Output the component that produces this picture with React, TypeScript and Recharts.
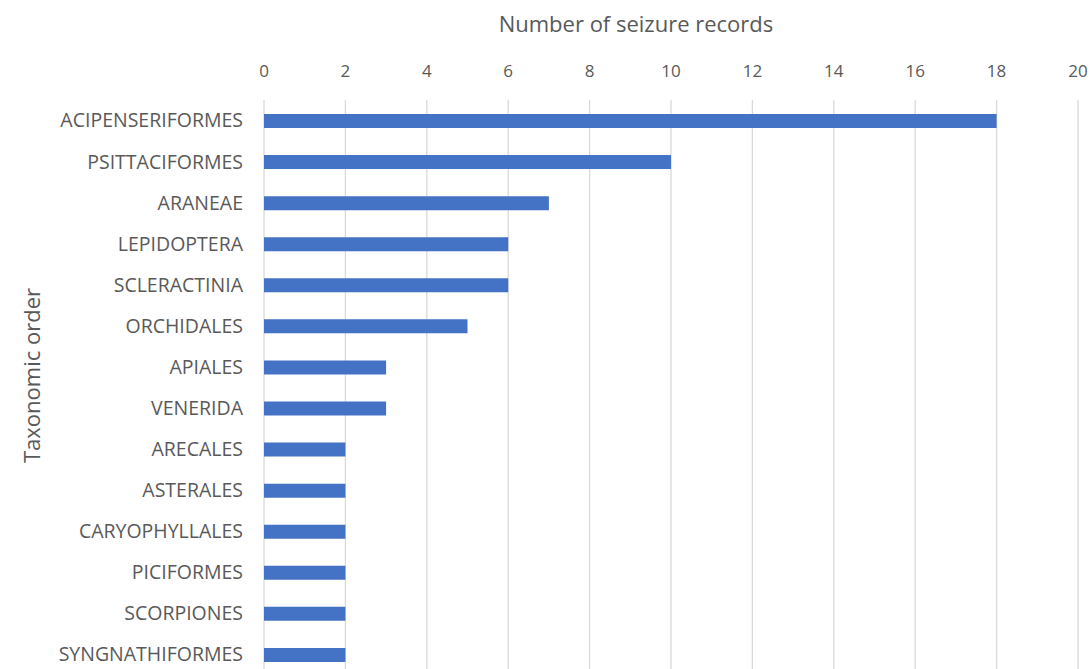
import { BarChart, Bar, XAxis, YAxis, CartesianGrid, Label } from "recharts";

const orders = [
  "ACIPENSERIFORMES", "PSITTACIFORMES", "ARANEAE", "LEPIDOPTERA", "SCLERACTINIA",
  "ORCHIDALES", "APIALES", "VENERIDA", "ARECALES", "ASTERALES",
  "CARYOPHYLLALES", "PICIFORMES", "SCORPIONES", "SYNGNATHIFORMES",
];
const records = [18, 10, 7, 6, 6, 5, 3, 3, 2, 2, 2, 2, 2, 2];
const xTicks = [0, 2, 4, 6, 8, 10, 12, 14, 16, 18, 20];

const FONT = "'Open Sans', sans-serif";
const TEXT = "#595959";

export default function App() {
  const data = orders.map((o, i) => ({ order: o, count: records[i] }));
  return (
    <div style={{ position: "absolute", left: 0, top: 0, fontFamily: FONT }}>
      <BarChart
        width={1090}
        height={680}
        layout="vertical"
        data={data}
        margin={{ top: 50, right: 12, left: 0, bottom: 5 }}
        barCategoryGap={0}
      >
        <CartesianGrid horizontal={false} stroke="#D9D9D9" strokeWidth={1.3} />
        <XAxis
          type="number"
          orientation="top"
          domain={[0, 20]}
          ticks={xTicks}
          height={50}
          axisLine={false}
          tickLine={false}
          tickSize={6}
          tickMargin={17}
          tick={{ fill: TEXT, fontSize: 17, fontFamily: FONT }}
        >
          {/* title sits a bit left of the plot centre in the original */}
          <Label
            value="Number of seizure records"
            position="insideTop"
            offset={-34}
            dx={-35}
            fill={TEXT}
            fontSize={22}
            fontFamily={FONT}
          />
        </XAxis>
        <YAxis
          type="category"
          dataKey="order"
          width={264}
          axisLine={false}
          tickLine={false}
          tickSize={6}
          tickMargin={15}
          interval={0}
          tick={{ fill: TEXT, fontSize: 19.5, fontFamily: FONT }}
        >
          <Label
            value="Taxonomic order"
            angle={-90}
            position="insideLeft"
            offset={32}
            dy={-12}
            fill={TEXT}
            fontSize={22}
            fontFamily={FONT}
            style={{ textAnchor: "middle" }}
          />
        </YAxis>
        <Bar dataKey="count" fill="#4472C4" barSize={14} isAnimationActive={false} />
      </BarChart>
    </div>
  );
}
